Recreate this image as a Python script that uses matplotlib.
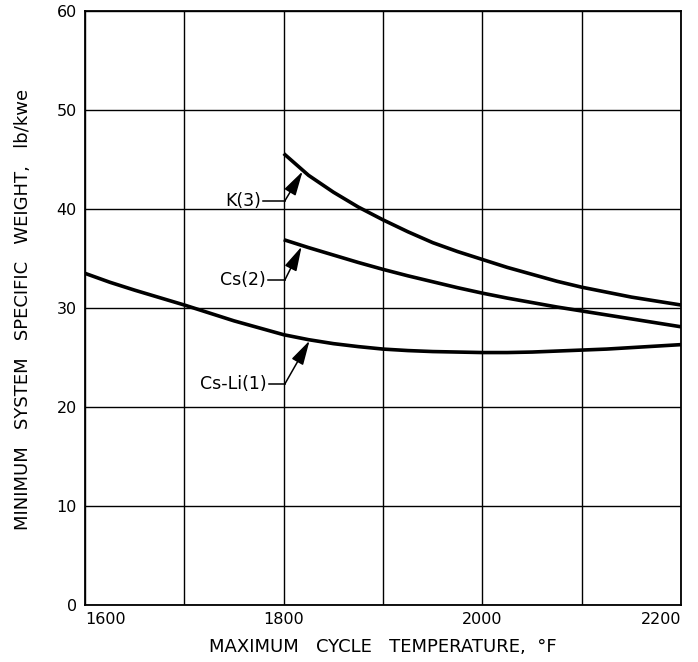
import matplotlib
matplotlib.use("Agg")
import matplotlib.pyplot as plt

# Data
temp_csli = [1600, 1625, 1650, 1675, 1700, 1725, 1750, 1775, 1800, 1825, 1850, 1875, 1900,
             1925, 1950, 1975, 2000, 2025, 2050, 2075, 2100, 2125, 2150, 2175, 2200]
w_csli = [33.5, 32.6, 31.8, 31.05, 30.3, 29.5, 28.7, 28.0, 27.3, 26.8, 26.4, 26.1, 25.85,
          25.7, 25.6, 25.55, 25.5, 25.5, 25.55, 25.65, 25.75, 25.85, 26.0, 26.15, 26.3]

temp_cs = [1800, 1825, 1850, 1875, 1900, 1925, 1950, 1975, 2000, 2025, 2050, 2075, 2100,
           2125, 2150, 2175, 2200]
w_cs = [36.9, 36.1, 35.35, 34.6, 33.9, 33.25, 32.65, 32.05, 31.5, 31.0, 30.55, 30.1, 29.7,
        29.3, 28.9, 28.5, 28.1]

temp_k = [1800, 1825, 1850, 1875, 1900, 1925, 1950, 1975, 2000, 2025, 2050, 2075, 2100,
          2125, 2150, 2175, 2200]
w_k = [45.6, 43.4, 41.7, 40.2, 38.9, 37.7, 36.6, 35.7, 34.9, 34.1, 33.4, 32.7, 32.1,
       31.6, 31.1, 30.7, 30.3]

x_ticks = [1600, 1800, 2000, 2200]
x_tick_labels = ["1600", "1800", "2000", "2200"]
x_grid = [1600, 1700, 1800, 1900, 2000, 2100, 2200]
y_ticks = [0, 10, 20, 30, 40, 50, 60]

labels = ["K(3)", "Cs(2)", "Cs-Li(1)"]
label_text_pos = [(1777, 40.8), (1782, 32.8), (1783, 22.3)]
label_tip_pos = [(1819, 43.8), (1818, 36.2), (1826, 26.7)]

fig = plt.figure(figsize=(6.98, 6.62), dpi=100)
ax = fig.add_axes([0.1218, 0.0861, 0.854, 0.8973])
ax.set_xlim(1600, 2200)
ax.set_ylim(0, 60)

for xg in x_grid:
    ax.axvline(xg, color="black", lw=1.0, zorder=1)
for yg in y_ticks:
    ax.axhline(yg, color="black", lw=1.0, zorder=1)

for sp in ax.spines.values():
    sp.set_linewidth(1.3)

ax.plot(temp_csli, w_csli, color="black", lw=2.6, zorder=3, solid_capstyle="butt")
ax.plot(temp_cs, w_cs, color="black", lw=2.6, zorder=3, solid_capstyle="butt")
ax.plot(temp_k, w_k, color="black", lw=2.6, zorder=3, solid_capstyle="butt")

ax.set_xticks(x_ticks)
ax.set_xticklabels(x_tick_labels)
ax.set_yticks(y_ticks)
ax.tick_params(axis="x", length=0, labelsize=11.5, pad=5)
ax.tick_params(axis="y", length=0, labelsize=11.5, pad=6)
xtl = ax.get_xticklabels()
xtl[0].set_horizontalalignment("left")
xtl[-1].set_horizontalalignment("right")

for lab, (tx, ty), (hx, hy) in zip(labels, label_text_pos, label_tip_pos):
    ax.text(tx, ty, lab, ha="right", va="center", fontsize=12.5, zorder=4)
    ax.plot([tx + 2, 1801], [ty, ty], color="black", lw=1.1, zorder=4)
    ax.annotate("", xy=(hx, hy), xytext=(1801, ty),
                arrowprops=dict(arrowstyle="-|>,head_length=1.5,head_width=0.4",
                                color="black", lw=1.1, shrinkA=0, shrinkB=0,
                                mutation_scale=10),
                zorder=4)

fig.text(0.549, 0.0227, "MAXIMUM   CYCLE   TEMPERATURE,  °F", ha="center", va="center", fontsize=13)
fig.text(0.033, 0.533, "MINIMUM   SYSTEM   SPECIFIC   WEIGHT,   lb/kwe", ha="center", va="center",
         rotation=90, fontsize=13)

fig.savefig("out.png", dpi=100)
